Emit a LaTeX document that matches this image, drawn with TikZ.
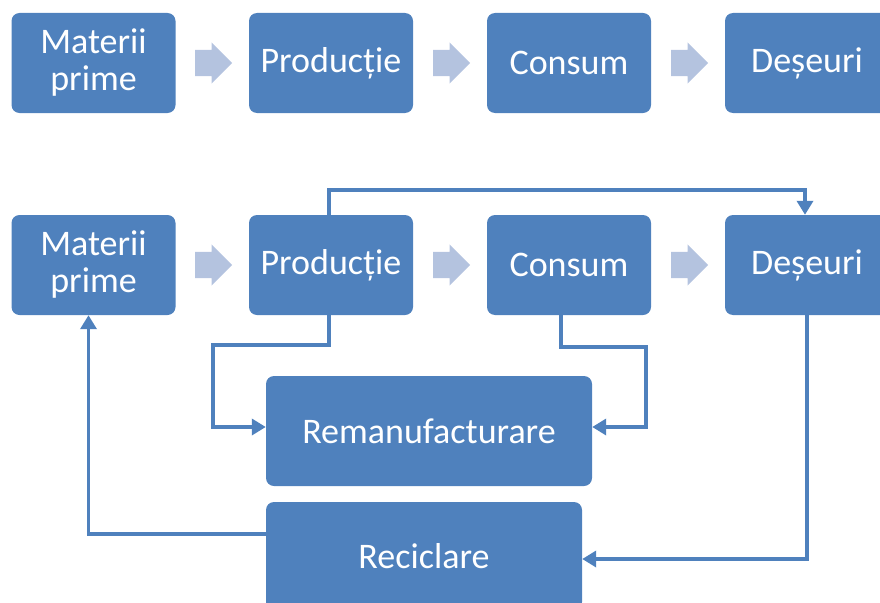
\documentclass[tikz,border=0pt]{standalone}
\usepackage{fontspec}
\setmainfont{Carlito}
\usetikzlibrary{arrows.meta}
\usetikzlibrary{shapes.arrows}
\definecolor{boxblue}{HTML}{4F81BD}
\definecolor{paleblue}{HTML}{B4C3DF}
\tikzset{
  process box/.style={
    draw=none, fill=boxblue, text=white, rounded corners=8pt,
    minimum width=164pt, minimum height=100pt, inner sep=0pt,
    align=center, font=\fontsize{36}{37}\selectfont},
  wide box/.style={process box, minimum height=110pt},
  block arrow/.style={
    single arrow, fill=paleblue, draw=none, anchor=tail,
    minimum height=37pt, inner xsep=0pt, inner ysep=13pt,
    single arrow head extend=7.5pt},
  loop line/.style={
    draw=boxblue, line width=3.5pt,
    -{Triangle[length=14pt,width=16pt]}}}

\begin{document}
\begin{tikzpicture}[x=1pt,y=-1pt]
    \useasboundingbox (0,0) rectangle (880,602);
    % linear chain
    \node[process box] (mp1) at (93.5,63) {Materii\\prime};
    \node[process box] (prod1) at (331,63) {Producție};
    \node[process box] (con1) at (569,63) {Consum};
    \node[process box] (des1) at (807,63) {Deșeuri};
    \node[block arrow] (a1) at (195,63) {};
    \node[block arrow] (a2) at (433,63) {};
    \node[block arrow] (a3) at (671,63) {};
    %
    % circular chain
    \node[process box] (mp2) at (93.5,265) {Materii\\prime};
    \node[process box] (prod2) at (331,265) {Producție};
    \node[process box] (con2) at (569,265) {Consum};
    \node[process box] (des2) at (807,265) {Deșeuri};
    \node[block arrow] (b1) at (195,265) {};
    \node[block arrow] (b2) at (433,265) {};
    \node[block arrow] (b3) at (671,265) {};
    %
    \node[wide box, minimum width=326pt] (rem) at (429,431) {Remanufacturare};
    \node[wide box, minimum width=316pt, minimum height=108pt] (rec) at (424,556) {Reciclare};
    %
    % feedback lines
    \draw[loop line] ([xshift=-2pt]prod2.north) -- ++(0,-25) -| ([xshift=-2pt]des2.north);
    \draw[loop line] ([xshift=-2pt]prod2.south) -- ++(0,30) -| ([xshift=-53pt,yshift=4pt]rem.west) -- ([yshift=4pt]rem.west);
    \draw[loop line] ([xshift=-8pt]con2.south) -- ++(0,32) -| ([xshift=54pt,yshift=4pt]rem.east) -- ([yshift=4pt]rem.east);
    \draw[loop line] (des2.south) |- ([yshift=-3pt]rec.east);
    \draw[loop line] ([yshift=22pt]rec.west) -| ([xshift=-5pt]mp2.south);
\end{tikzpicture}
\end{document}
